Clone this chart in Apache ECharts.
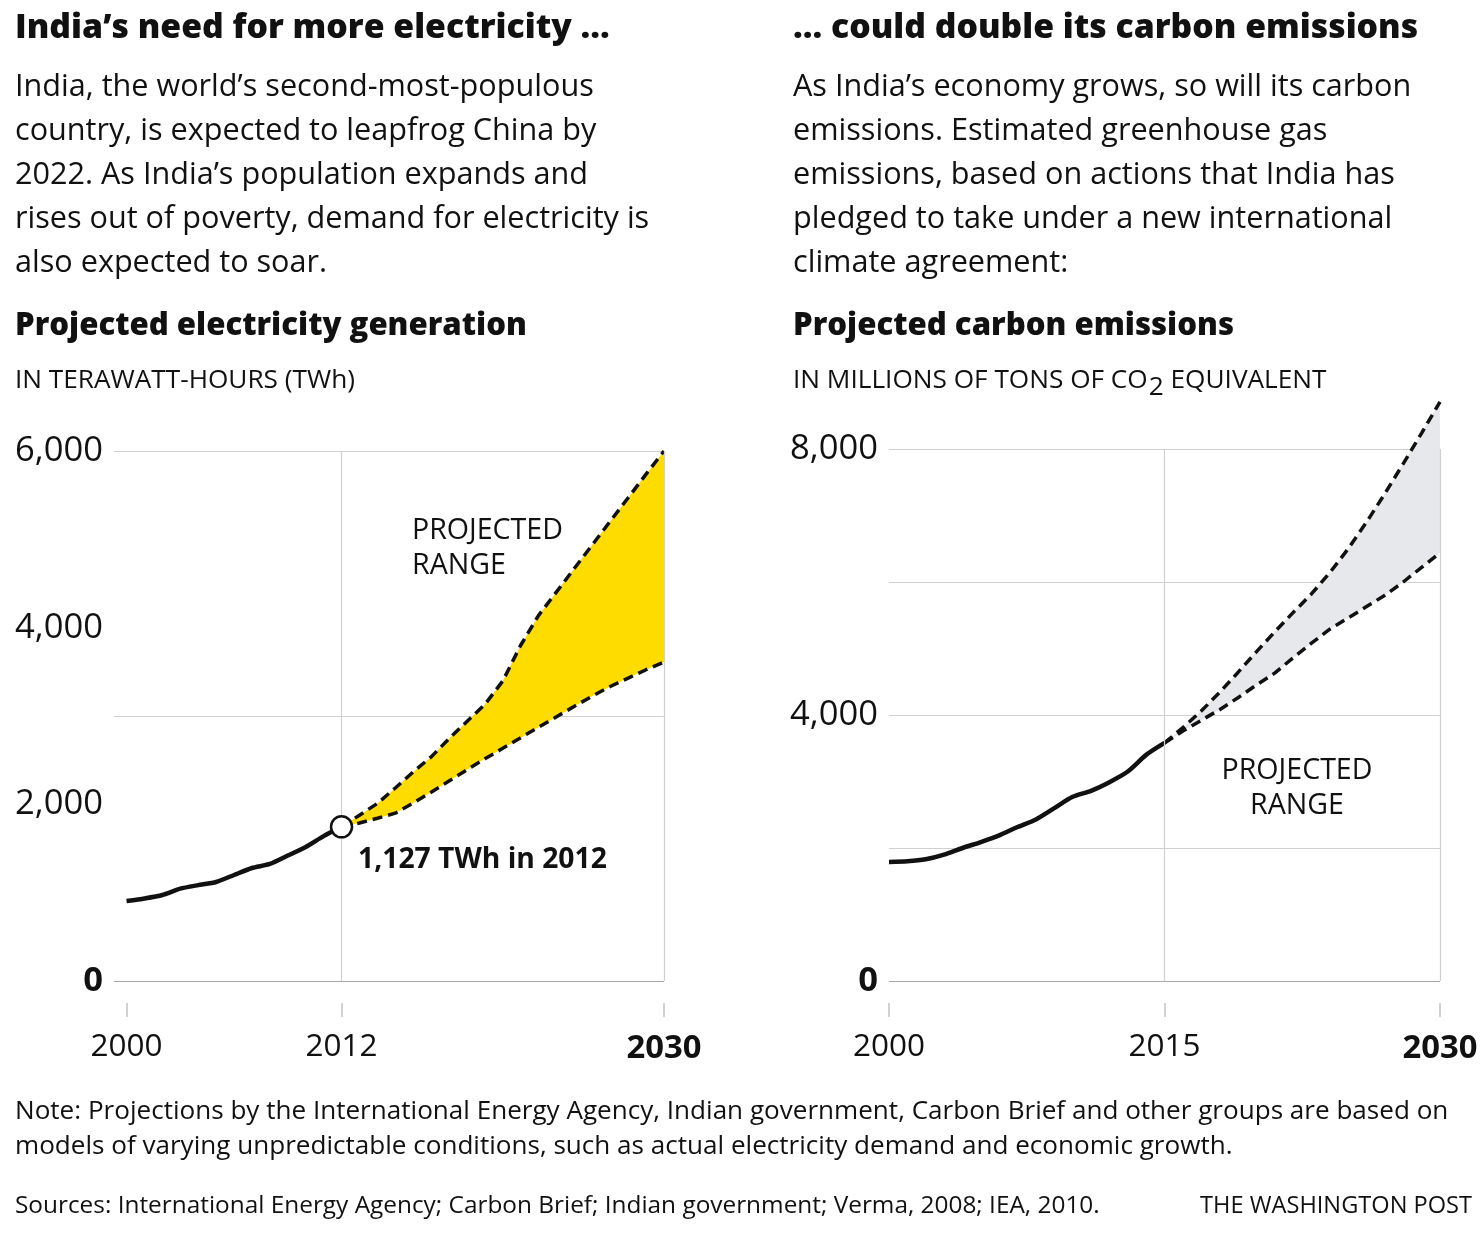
<!DOCTYPE html>
<html>
<head>
<meta charset="utf-8">
<script src="https://cdn.jsdelivr.net/npm/echarts@6/dist/echarts.min.js"></script>
<style>
html,body{margin:0;padding:0;background:#fff;}
#chart{width:1484px;height:1236px;}
</style>
</head>
<body>
<div id="chart"></div>
<script>
// ---------- DATA ----------
// Left: projected electricity generation (TWh)
const leftHistYears = [2000, 2001, 2002, 2003, 2004, 2005, 2006, 2007, 2008, 2009, 2010, 2011, 2012];
const leftHistValues = [906, 935, 974, 1045, 1085, 1121, 1200, 1279, 1325, 1420, 1517, 1640, 1745];
const leftProjYears = [2012, 2013, 2014, 2015, 2016, 2017, 2018, 2019, 2020, 2021, 2022, 2023, 2024, 2025, 2026, 2027, 2028, 2029, 2030];
const leftUpper = [1745, 1877, 2010, 2185, 2366, 2537, 2743, 2938, 3131, 3396, 3801, 4139, 4405, 4672, 4938, 5205, 5471, 5738, 6000];
const leftLower = [1745, 1789, 1843, 1900, 2015, 2138, 2264, 2391, 2515, 2634, 2754, 2873, 2992, 3110, 3226, 3334, 3429, 3524, 3611];
const leftXTicks = [2000, 2012, 2030];
const leftYLabels = [0, 2000, 4000, 6000];

// Right: projected carbon emissions (million tons CO2 eq.)
const rightHistYears = [2000, 2001, 2002, 2003, 2004, 2005, 2006, 2007, 2008, 2009, 2010, 2011, 2012, 2013, 2014, 2015];
const rightHistValues = [1790, 1800, 1830, 1900, 2000, 2090, 2190, 2316, 2430, 2600, 2770, 2860, 2990, 3150, 3400, 3580];
const rightProjYears = [2015, 2016, 2017, 2018, 2019, 2020, 2021, 2022, 2023, 2024, 2025, 2026, 2027, 2028, 2029, 2030];
const rightUpper = [3580, 3810, 4060, 4340, 4640, 4950, 5250, 5540, 5820, 6140, 6500, 6900, 7330, 7780, 8240, 8710];
const rightLower = [3580, 3760, 3920, 4080, 4260, 4450, 4630, 4860, 5080, 5290, 5460, 5630, 5800, 6000, 6220, 6440];
const rightXTicks = [2000, 2015, 2030];
const rightYLabels = [0, 4000, 8000];

// ---------- STYLE ----------
const FF = '"Open Sans", "Liberation Sans", sans-serif';
const INK = '#111';
const GRID = '#d0d0d0';
const ZERO = '#a8a8a8';

const measureCtx = document.createElement('canvas').getContext('2d');
function textW(text, size, weight) {
  measureCtx.font = (weight || 'normal') + ' ' + size + 'px ' + FF;
  return measureCtx.measureText(text).width;
}
function fit(text, target, weight) {
  return +(100 * target / textW(text, 100, weight)).toFixed(2);
}

const zip = (xs, ys) => xs.map((x, i) => [x, ys[i]]);
const fmtNum = v => v.toLocaleString('en-US');

const Y_SIZE = fit('6,000', 88);
const X_SIZE = fit('2000', 72);
const XB_SIZE = fit('2030', 75, 'bold');

function yLabelFmt(list) {
  return v => {
    if (list.indexOf(v) < 0) return '';
    return v === 0 ? '{b|0}' : fmtNum(v);
  };
}
function xLabelFmt(lastYear) {
  return v => v === lastYear ? '{b|' + v + '}' : String(v);
}

const chart = echarts.init(document.getElementById('chart'), null, {renderer: 'canvas'});

const xAxisCommon = {
  type: 'value',
  offset: 22,
  axisLine: {show: false, onZero: false},
  splitLine: {show: false},
  axisTick: {show: true, length: 14, lineStyle: {color: '#c4c4c4', width: 1.5}},
  axisLabel: {margin: 29, fontSize: X_SIZE, color: INK, fontFamily: FF,
    rich: {b: {fontSize: XB_SIZE, fontWeight: 'bold', color: INK, fontFamily: FF}}}
};

function vline(x) { return {xAxis: x}; }
const dashStyle = {color: INK, width: 3.5, type: [10, 6]};

function bandSeries(xIdx, yIdx, years, up, lo, color, clip) {
  return {
    type: 'custom', xAxisIndex: xIdx, yAxisIndex: yIdx, data: zip(years, up), clip: clip, z: 2, silent: true,
    renderItem: function (params, api) {
      if (params.dataIndex !== 0) return null;
      const pts = [];
      for (let i = 0; i < years.length; i++) pts.push(api.coord([years[i], up[i]]));
      for (let i = years.length - 1; i >= 0; i--) pts.push(api.coord([years[i], lo[i]]));
      return {type: 'polygon', shape: {points: pts}, style: {fill: color, stroke: null}};
    }
  };
}

function yLabelCfg(list) {
  return {formatter: yLabelFmt(list), margin: 11, fontSize: Y_SIZE, color: INK, fontFamily: FF,
    rich: {b: {fontSize: Y_SIZE, fontWeight: 'bold', color: INK, fontFamily: FF}}};
}

const option = {
  animation: false,
  backgroundColor: '#fff',
  grid: [
    {left: 114, right: 820, top: 451, bottom: 255},
    {left: 889, right: 44, top: 449, bottom: 255}
  ],
  xAxis: [
    Object.assign({}, xAxisCommon, {gridIndex: 0, min: 1999.3, max: 2030,
      axisTick: Object.assign({}, xAxisCommon.axisTick, {customValues: leftXTicks}),
      axisLabel: Object.assign({}, xAxisCommon.axisLabel, {customValues: leftXTicks, formatter: xLabelFmt(2030)})}),
    Object.assign({}, xAxisCommon, {gridIndex: 1, min: 2000, max: 2030,
      axisTick: Object.assign({}, xAxisCommon.axisTick, {customValues: rightXTicks}),
      axisLabel: Object.assign({}, xAxisCommon.axisLabel, {customValues: rightXTicks, formatter: xLabelFmt(2030)})})
  ],
  yAxis: [
    {gridIndex: 0, type: 'value', min: 0, max: 6000, interval: 2000,
      axisLine: {show: false, onZero: false}, axisTick: {show: false}, splitLine: {show: false},
      axisLabel: yLabelCfg(leftYLabels)},
    {gridIndex: 0, type: 'value', min: 0, max: 6000, interval: 3000,
      axisLine: {show: false, onZero: false}, axisTick: {show: false}, axisLabel: {show: false},
      splitLine: {show: true, lineStyle: {color: [ZERO, GRID, GRID], width: 1.2}}},
    {gridIndex: 1, type: 'value', min: 0, max: 8000, interval: 2000,
      axisLine: {show: false, onZero: false}, axisTick: {show: false},
      splitLine: {show: true, lineStyle: {color: [ZERO, GRID, GRID, GRID, GRID], width: 1.2}},
      axisLabel: yLabelCfg(rightYLabels)}
  ],
  series: [
    // ----- left -----
    {type: 'line', xAxisIndex: 0, yAxisIndex: 0, data: [], silent: true, z: 1,
      markLine: {silent: true, symbol: 'none', label: {show: false},
        lineStyle: {color: GRID, width: 1.2, type: 'solid'}, data: [vline(2012), vline(2030)]}},
    bandSeries(0, 0, leftProjYears, leftUpper, leftLower, '#FFDC00', true),
    {type: 'line', xAxisIndex: 0, yAxisIndex: 0, data: zip(leftProjYears, leftUpper),
      symbol: 'none', lineStyle: dashStyle, z: 3},
    {type: 'line', xAxisIndex: 0, yAxisIndex: 0, data: zip(leftProjYears, leftLower),
      symbol: 'none', lineStyle: dashStyle, z: 3},
    {type: 'line', xAxisIndex: 0, yAxisIndex: 0, data: zip(leftHistYears, leftHistValues),
      symbol: 'none', lineStyle: {color: INK, width: 4.5}, smooth: 0.2, z: 4},
    {type: 'scatter', xAxisIndex: 0, yAxisIndex: 0,
      data: [[leftHistYears[leftHistYears.length - 1], leftHistValues[leftHistValues.length - 1]]],
      symbolSize: 21, itemStyle: {color: '#fff', borderColor: INK, borderWidth: 2.5, opacity: 1}, z: 6},
    // ----- right -----
    {type: 'line', xAxisIndex: 1, yAxisIndex: 2, data: [], silent: true, z: 1,
      markLine: {silent: true, symbol: 'none', label: {show: false},
        lineStyle: {color: GRID, width: 1.2, type: 'solid'}, data: [vline(2015), vline(2030)]}},
    bandSeries(1, 2, rightProjYears, rightUpper, rightLower, '#E7E8EC', false),
    {type: 'line', xAxisIndex: 1, yAxisIndex: 2, data: zip(rightProjYears, rightUpper),
      symbol: 'none', lineStyle: dashStyle, z: 3, clip: false},
    {type: 'line', xAxisIndex: 1, yAxisIndex: 2, data: zip(rightProjYears, rightLower),
      symbol: 'none', lineStyle: dashStyle, z: 3, clip: false},
    {type: 'line', xAxisIndex: 1, yAxisIndex: 2, data: zip(rightHistYears, rightHistValues),
      symbol: 'none', lineStyle: {color: INK, width: 4.5}, smooth: 0.25, z: 4}
  ],
  graphic: []
};

// ---------- TEXT ----------
function txt(x, y, text, size, opts) {
  opts = opts || {};
  return {
    type: 'text', x: x, y: y, silent: true, z: 100,
    style: {
      text: text,
      font: (opts.weight || 'normal') + ' ' + size + 'px ' + FF,
      fill: opts.fill || INK,
      align: opts.align || 'left',
      verticalAlign: opts.va || 'middle',
      lineHeight: opts.lh || undefined
    }
  };
}
const G = option.graphic;
const TW = '800';
const titleL = 'India’s need for more electricity ...';
const titleR = '... could double its carbon emissions';
const bodyL = ['India, the world’s second-most-populous', 'country, is expected to leapfrog China by', '2022. As India’s population expands and', 'rises out of poverty, demand for electricity is', 'also expected to soar.'];
const bodyR = ['As India’s economy grows, so will its carbon', 'emissions. Estimated greenhouse gas', 'emissions, based on actions that India has', 'pledged to take under a new international', 'climate agreement:'];
const T_SIZE = fit(titleL, 595, TW);
const B_SIZE = fit(bodyL[0], 579);
const S_SIZE = fit('Projected electricity generation', 512, TW);
const U_SIZE = fit('IN TERAWATT-HOURS (TWh)', 340);

G.push(txt(15, 28, titleL, T_SIZE, {weight: TW}));
G.push(txt(15, 65, bodyL.join('\n'), B_SIZE, {va: 'top', lh: 44}));
G.push(txt(15, 326, 'Projected electricity generation', S_SIZE, {weight: TW}));
G.push(txt(15, 381, 'IN TERAWATT-HOURS (TWh)', U_SIZE));

G.push(txt(793, 28, titleR, T_SIZE, {weight: TW}));
G.push(txt(793, 65, bodyR.join('\n'), B_SIZE, {va: 'top', lh: 44}));
G.push(txt(793, 326, 'Projected carbon emissions', S_SIZE, {weight: TW}));
(function () {
  const a = 'IN MILLIONS OF TONS OF CO';
  const w1 = textW(a, U_SIZE);
  const w2 = textW('2', U_SIZE);
  G.push(txt(793, 381, a, U_SIZE));
  G.push(txt(793 + w1 + 1, 388, '2', U_SIZE));
  G.push(txt(793 + w1 + 1 + w2, 381, ' EQUIVALENT', U_SIZE));
})();

// In-chart annotations
const P_SIZE = fit('PROJECTED', 151);
G.push(txt(412, 513, 'PROJECTED\nRANGE', P_SIZE, {va: 'top', lh: 35}));
G.push(txt(1297, 753, 'PROJECTED\nRANGE', P_SIZE, {va: 'top', lh: 35, align: 'center'}));
G.push(txt(358, 860, '1,127 TWh in 2012', fit('1,127 TWh in 2012', 249, 'bold'), {weight: 'bold'}));

// Footer
const noteLines = ['Note: Projections by the International Energy Agency, Indian government, Carbon Brief and other groups are based on',
  'models of varying unpredictable conditions, such as actual electricity demand and economic growth.'];
const N_SIZE = fit(noteLines[0], 1434);
G.push(txt(15, 1094, noteLines.join('\n'), N_SIZE, {va: 'top', lh: 35}));
const src = 'Sources: International Energy Agency; Carbon Brief; Indian government; Verma, 2008; IEA, 2010.';
G.push(txt(15, 1206, src, fit(src, 1085)));
G.push(txt(1472, 1206, 'THE WASHINGTON POST', fit('THE WASHINGTON POST', 272), {align: 'right'}));

chart.setOption(option);
</script>
</body>
</html>
